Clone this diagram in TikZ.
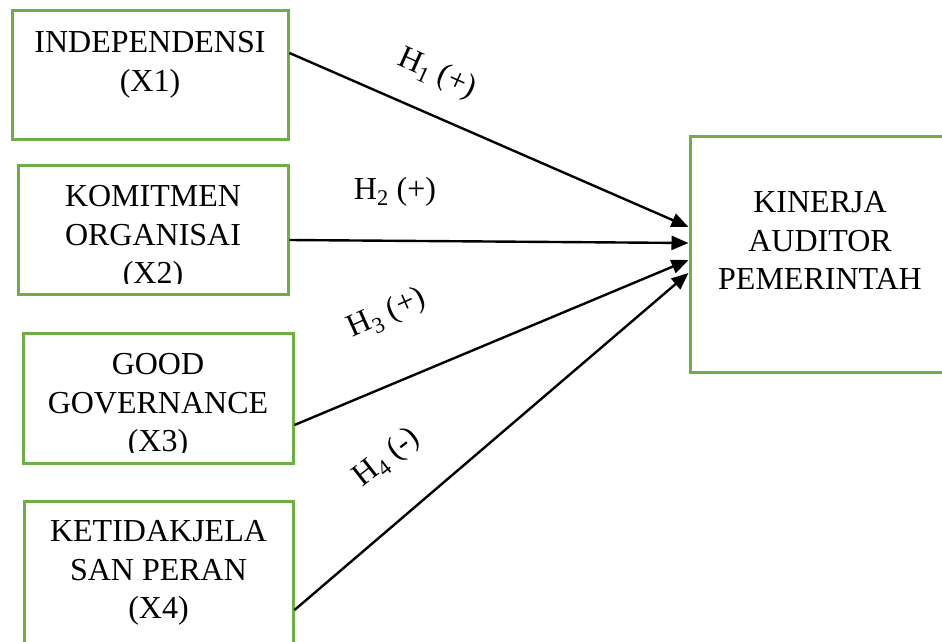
\documentclass[tikz,border=0pt]{standalone}
\usepackage{fontspec}
\setmainfont{Liberation Serif}
\usetikzlibrary{arrows.meta,positioning,calc}
\definecolor{boxgreen}{RGB}{112,173,71}
\tikzset{
  varbox/.style={draw=boxgreen, line width=3pt, inner sep=0pt},
  vartxt/.style={align=center, inner sep=0pt, anchor=north,
                 font=\fontsize{32}{38.5}\selectfont},
  hyparr/.style={-{Triangle[length=17pt,width=14pt]}, line width=2.4pt},
  hyplab/.style={inner sep=0pt, font=\fontsize{32}{38.5}\selectfont},
}
\begin{document}
\begin{tikzpicture}[x=1pt, y=-1pt]
  \useasboundingbox (0,0) rectangle (942,642);
  \clip (0,0) rectangle (942,642);
  % variable boxes
  \node[varbox, minimum width=276pt, minimum height=128pt] (x1) at (150,75) {};
  \node[varbox, minimum width=270pt, minimum height=129pt] (x2) at (153,229.5) {};
  \node[varbox, minimum width=270pt, minimum height=130pt] (x3) at (158,398) {};
  \node[varbox, minimum width=269pt, minimum height=199pt] (x4) at (158.5,600.5) {};
  \node[varbox, minimum width=260pt, minimum height=236pt] (kinerja) at (820,254) {};
  % texts
  \node[vartxt] (x1txt) at ([yshift=-22pt]x1.north) {INDEPENDENSI\\(X1)};
  \begin{scope}
    \clip (x2.north west) rectangle ([yshift=12.5pt]x2.south east);
    \node[vartxt] (x2txt) at ([yshift=-22pt]x2.north) {KOMITMEN\\ORGANISAI\\(X2)};
  \end{scope}
  \begin{scope}
    \clip (x3.north west) rectangle ([yshift=12.5pt]x3.south east);
    \node[vartxt] (x3txt) at ([yshift=-22pt]x3.north) {GOOD\\GOVERNANCE\\(X3)};
  \end{scope}
  \node[vartxt] (x4txt) at ([yshift=-21pt]x4.north) {KETIDAKJELA\\SAN PERAN\\(X4)};
  \node[vartxt] (kintxt) at ([yshift=-57pt]kinerja.north) {KINERJA\\AUDITOR\\PEMERINTAH};
  % hypotheses
  \draw[hyparr] ([yshift=22pt]x1.east) -- ([yshift=27pt]kinerja.west);
  \draw[hyparr] ([yshift=-10.5pt]x2.east) -- ([yshift=11pt]kinerja.west);
  \draw[hyparr] ([yshift=-27pt]x3.east) -- ([yshift=-6pt]kinerja.west);
  \draw[hyparr] ([yshift=-9.5pt]x4.east) -- ([yshift=-19pt]kinerja.west);
  \node[hyplab, rotate=-24] (h1) at (437,74) {H\textsubscript{1} (+)};
  \node[hyplab] (h2) at (395,192) {H\textsubscript{2} (+)};
  \node[hyplab, rotate=24] (h3) at (387,314) {H\textsubscript{3} (+)};
  \node[hyplab, rotate=38] (h4) at (387,458) {H\textsubscript{4} (-)};
\end{tikzpicture}
\end{document}
